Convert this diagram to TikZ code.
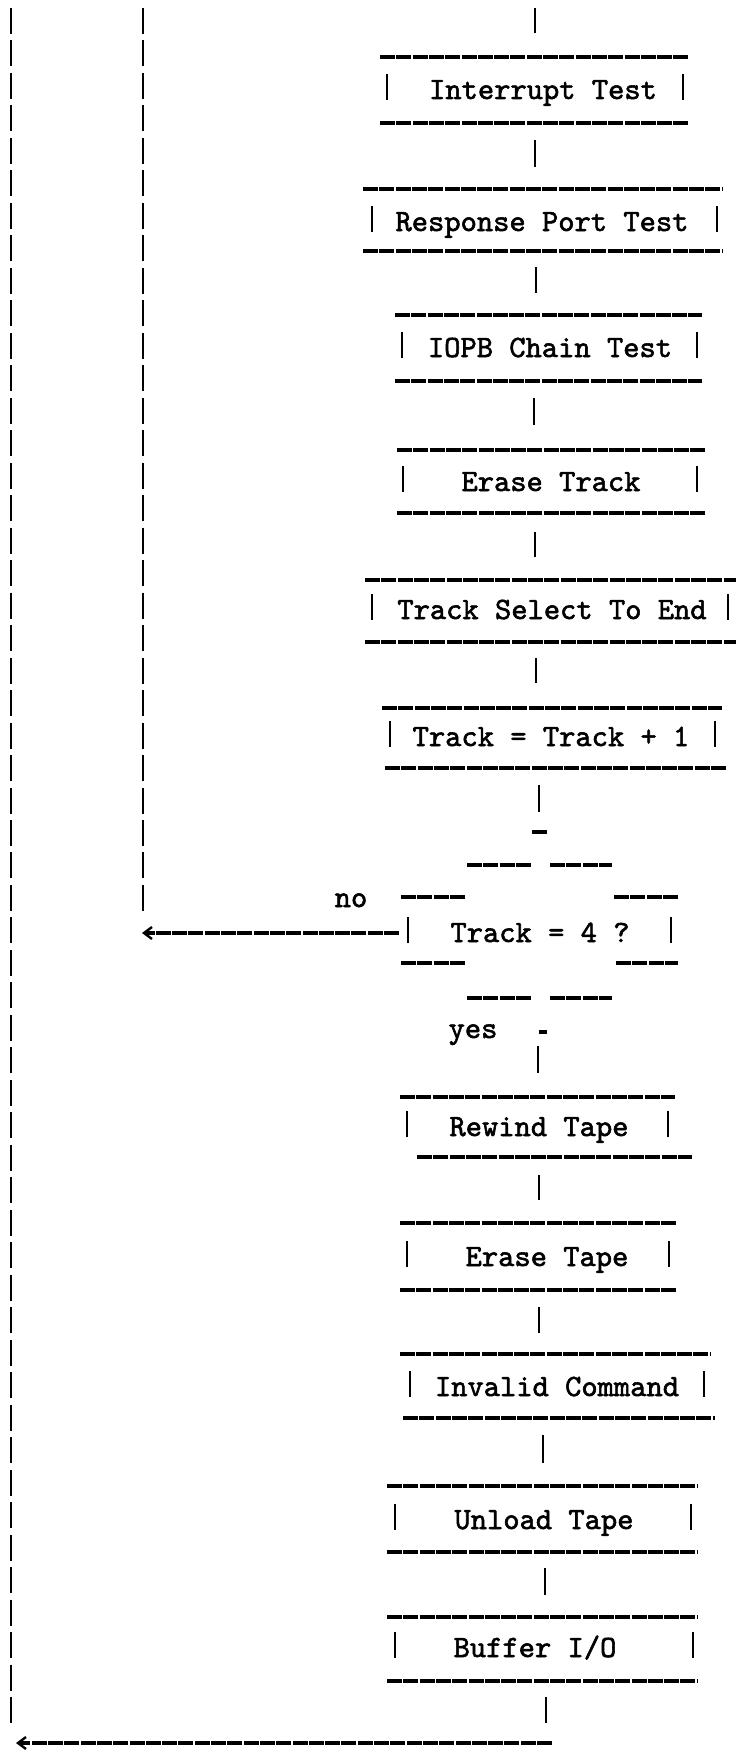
\documentclass[tikz,border=0pt]{standalone}
\usepackage{fontspec}
\newfontfamily\typewriter{lmmono10-regular.otf}[FakeBold=1.8]
\usetikzlibrary{arrows.meta}
\tikzset{
  hline/.style={line width=3.2pt, dash pattern=on 15pt off 1.3pt},
  vline/.style={line width=2.6pt},
  longv/.style={line width=2.6pt, dash pattern=on 26pt off 6.48pt},
  barl/.style={line width=2.4pt},
  lbl/.style={font=\typewriter\fontsize{31}{31}\selectfont, anchor=base, inner sep=0pt},
  tip/.style={-{Straight Barb[length=8pt,width=12pt,line width=2.4pt]}}
}
% #1 ytop #2 xl #3 xr #4 ybot #5 xbl #6 xbr #7 barL #8 barR #9 yc
\newcommand\boxlines[9]{%
  \draw[hline] (#2,#1) -- (#3,#1);
  \draw[hline] (#5,#4) -- (#6,#4);
  \draw[barl] (#7,#9-16) -- (#7,#9+10);
  \draw[barl] (#8,#9-16) -- (#8,#9+10);
}
\begin{document}
\begin{tikzpicture}[x=1pt,y=-1pt]
\useasboundingbox[fill=white] (0,0) rectangle (736,1750);

% long vertical return lines
\coordinate (L1a) at (11,8);
\coordinate (L1b) at (11,1723);
\draw[longv] (L1a) -- (L1b);
\coordinate (L2a) at (143,8);
\coordinate (L2b) at (143,911);
\draw[longv] (L2a) -- (L2b);

% boxes
\boxlines{57}{380}{689}{123}{380}{689}{387}{683}{90}
\node[lbl] (b1) at (543,99) {Interrupt Test};
\boxlines{189}{363}{722}{251}{363}{722}{372}{717}{222}
\node[lbl] (b2) at (542,231) {Response Port Test};
\boxlines{315}{395}{702}{381}{395}{702}{402}{697}{348}
\node[lbl] (b3) at (550,357) {IOPB Chain Test};
\boxlines{450}{397}{705}{513}{397}{705}{403}{697}{482}
\node[lbl] (b4) at (551,491) {Erase Track};
\boxlines{580}{365}{736}{642}{365}{736}{372}{728}{610}
\node[lbl] (b5) at (552,619) {Track Select To End};
\boxlines{708}{382}{722}{768}{385}{727}{390}{715}{737}
\node[lbl] (b6) at (551,746) {Track = Track + 1};
\boxlines{1097}{400}{675}{1157}{417}{692}{407}{668}{1127}
\node[lbl] (b8) at (539,1136) {Rewind Tape};
\boxlines{1223}{400}{677}{1290}{400}{677}{407}{669}{1257}
\node[lbl] (b9) at (547,1266) {Erase Tape};
\boxlines{1354}{400}{710}{1418}{403}{715}{410}{704}{1387}
\node[lbl] (b10) at (557,1396) {Invalid Command};
\boxlines{1486}{387}{698}{1552}{387}{698}{395}{691}{1520}
\node[lbl] (b11) at (544,1529) {Unload Tape};
\boxlines{1617}{387}{698}{1681}{387}{698}{395}{693}{1648}
\node[lbl] (b12) at (535,1657) {Buffer I/O};

% decision
\node[lbl] (d) at (540,942) {Track = 4 ?};
\draw[hline] (532,832) -- (547,832);
\draw[hline] (467,865) -- (531,865);
\draw[hline] (550,865) -- (612,865);
\draw[hline] (401,897) -- (465,897);
\draw[hline] (614,897) -- (678,897);
\draw[barl] (408,917) -- (408,943);
\draw[barl] (671,917) -- (671,943);
\draw[hline] (401,963) -- (465,963);
\draw[hline] (616,963) -- (678,963);
\draw[hline] (467,998) -- (531,998);
\draw[hline] (550,998) -- (612,998);
\draw[hline] (539,1032) -- (547,1032);
\node[lbl] (no) at (351,907) {no};
\node[lbl] (yes) at (473,1038) {yes};

% connectors
\foreach \n/\x/\ya/\yb in {0/535/8/33, 1/535/140/167, 2/536/267/293, 3/534/398/425,
  4/535/532/557, 5/536/658/683, 6/539/785/812, 7/538/1046/1073, 8/539/1175/1200,
  9/539/1307/1333, 10/543/1435/1463, 11/545/1568/1595, 12/546/1697/1723}{
  \coordinate (k\n a) at (\x,\ya);
  \coordinate (k\n b) at (\x,\yb);
  \draw[vline] (k\n a) -- (k\n b);
}

% return arrows
\coordinate (dl) at (399,933);
\coordinate (noend) at (142,933);
\draw[hline, tip] (dl) -- (noend);
\coordinate (endstart) at (552,1743);
\coordinate (endtip) at (16,1743);
\draw[hline, tip] (endstart) -- (endtip);
\end{tikzpicture}
\end{document}
